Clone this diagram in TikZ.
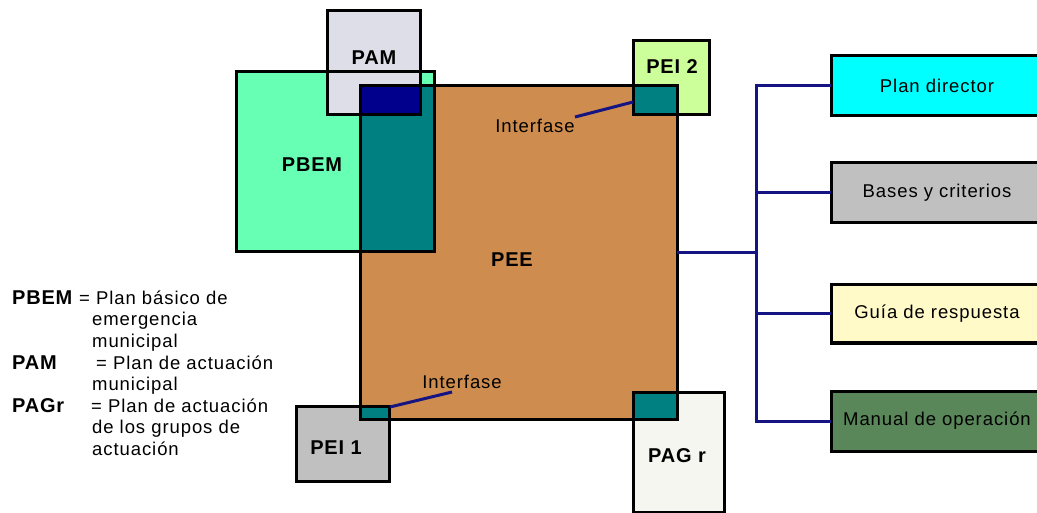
\documentclass[tikz,border=0pt]{standalone}
\usepackage{fontspec}
\setmainfont{Liberation Sans}
\newfontfamily\txtfont[LetterSpace=5]{Liberation Sans}
\newfontfamily\lblfont[LetterSpace=4]{Liberation Sans}
\definecolor{peec}{RGB}{206,140,78}
\definecolor{pbemc}{RGB}{102,255,180}
\definecolor{pamc}{RGB}{222,222,232}
\definecolor{pei2c}{RGB}{204,255,153}
\definecolor{pei1c}{RGB}{192,192,192}
\definecolor{pagrc}{RGB}{246,246,240}
\definecolor{navyc}{RGB}{0,0,140}
\definecolor{tealc}{RGB}{0,128,128}
\definecolor{linec}{RGB}{20,20,130}
\definecolor{planc}{RGB}{0,255,255}
\definecolor{basesc}{RGB}{192,192,192}
\definecolor{guiac}{RGB}{255,250,200}
\definecolor{manualc}{RGB}{90,135,90}
\begin{document}
\begin{tikzpicture}[x=1pt,y=-1pt,
  box/.style={rectangle, inner sep=0pt, outer sep=0pt},
  border/.style={draw=black, line width=3pt},
  lbl/.style={inner sep=0pt, font=\lblfont\fontsize{20}{22}\selectfont\bfseries},
  txt/.style={inner sep=0pt, font=\txtfont\fontsize{18.5}{21.6}\selectfont},
  rbox/.style={rectangle, inner sep=0pt, outer sep=0pt, draw=black, line width=3pt,
    minimum width=212pt, font=\txtfont\fontsize{18.5}{21.6}\selectfont},
  conn/.style={draw=linec, line width=3pt},
  ifl/.style={draw=linec, line width=3pt}]
\useasboundingbox (0,0) rectangle (1037,513);
\fill[white] (0,0) rectangle (1037,513);
% base fills
\node[box, fill=pbemc, minimum width=198pt, minimum height=180pt] (pbem) at (335,162) {};
\node[box, fill=pamc, minimum width=93pt, minimum height=104pt] (pam) at (373.5,63) {};
\node[box, fill=peec, minimum width=317pt, minimum height=333pt] (pee) at (518.5,252.5) {};
\node[box, fill=pei2c, minimum width=76pt, minimum height=74pt] (pei2) at (671,78) {};
\node[box, fill=pei1c, minimum width=93pt, minimum height=75pt] (pei1) at (342.5,443.5) {};
\node[box, fill=pagrc, minimum width=91pt, minimum height=120pt] (pagr) at (678.5,452) {};
% overlaps
\fill[tealc] (pee.north west) rectangle (pbem.south east);
\fill[navyc] (pee.north west) rectangle (pam.south east);
\fill[tealc] (pei2.south west) rectangle (pee.north east);
\fill[tealc] (pei1.north east) rectangle (pee.south west);
\fill[tealc] (pagr.north west) rectangle (pee.south east);
% borders
\foreach \b in {pbem,pam,pee,pei2,pei1,pagr}
  \draw[border] (\b.north west) rectangle (\b.south east);
% labels
\node[lbl] (tpam) at (374,58) {PAM};
\node[lbl] (tpbem) at (312,165) {PBEM};
\node[lbl] (tpee) at (512,260) {PEE};
\node[lbl] (tpei2) at (672,67) {PEI 2};
\node[lbl] (tpei1) at (336,448) {PEI 1};
\node[lbl] (tpagr) at (677,456) {PAG r};
% interfaces
\node[txt] (if1) at (535,126) {Interfase};
\node[txt] (if2) at (462,382) {Interfase};
\coordinate (if1a) at (575,117);
\coordinate (if1b) at (633,102);
\coordinate (if2a) at (390,407);
\coordinate (if2b) at (452,392);
\draw[ifl] (if1a) -- (if1b);
\draw[ifl] (if2a) -- (if2b);
% right boxes
\node[rbox, fill=planc, minimum height=60pt] (plan) at (937,86) {Plan director};
\node[rbox, fill=basesc, minimum height=60pt] (bases) at (937,193) {Bases y criterios};
\node[rbox, fill=guiac, minimum height=58pt] (guia) at (937,314) {Guía de respuesta};
\node[rbox, fill=manualc, minimum height=60pt] (manual) at (937,421) {Manual de operación};
\coordinate (bus) at (756,254);
\draw[conn] (plan.west) -- (plan.west -| bus) -- (manual.west -| bus) -- (manual.west);
\draw[conn] (bases.west) -- (bases.west -| bus);
\draw[conn] (guia.west) -- (guia.west -| bus);
\draw[conn] (pee.east) -- (pee.east -| bus);
% legend
\node[lbl, anchor=base west] (l1a) at (12,304.5) {PBEM};
\node[txt, anchor=base west] (l1b) at (79,304.5) {= Plan básico de};
\node[txt, anchor=base west] (l2) at (92,326) {emergencia};
\node[txt, anchor=base west] (l3) at (92,347.5) {municipal};
\node[lbl, anchor=base west] (l4a) at (12,369) {PAM};
\node[txt, anchor=base west] (l4b) at (96,369) {= Plan de actuación};
\node[txt, anchor=base west] (l5) at (92,390.5) {municipal};
\node[lbl, anchor=base west] (l6a) at (12,412) {PAGr};
\node[txt, anchor=base west] (l6b) at (91,412) {= Plan de actuación};
\node[txt, anchor=base west] (l7) at (92,433.5) {de los grupos de};
\node[txt, anchor=base west] (l8) at (92,455) {actuación};
\end{tikzpicture}
\end{document}
